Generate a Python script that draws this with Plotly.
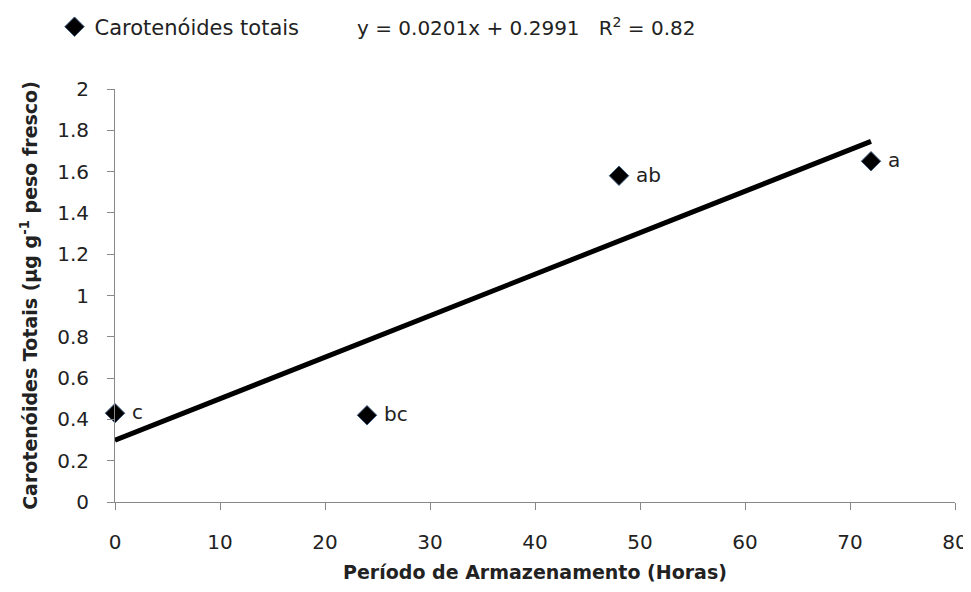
import plotly.graph_objects as go

hours = [0, 24, 48, 72]
carotenoids = [0.43, 0.42, 1.58, 1.65]
letters = ["c", "bc", "ab", "a"]
slope = 0.0201
intercept = 0.2991
r2 = 0.82
x_ticks = [0, 10, 20, 30, 40, 50, 60, 70, 80]
y_ticks = [0, 0.2, 0.4, 0.6, 0.8, 1, 1.2, 1.4, 1.6, 1.8, 2]

FONT = "DejaVu Sans"
TXT = "#222222"
AX = "#888888"
fit_x = [min(hours), max(hours)]
fit_y = [slope * x + intercept for x in fit_x]

fig = go.Figure()
fig.add_trace(go.Scatter(
    x=fit_x, y=fit_y, mode="lines",
    line=dict(color="black", width=5),
    showlegend=False, hoverinfo="skip"))
fig.add_trace(go.Scatter(
    x=hours, y=carotenoids, mode="markers",
    name="Carotenóides totais",
    marker=dict(symbol="diamond", size=15, color="black",
                line=dict(color="#3d5a80", width=1)),
    cliponaxis=False))

for x, y, t in zip(hours, carotenoids, letters):
    fig.add_annotation(x=x, y=y, text=t, showarrow=False,
                       xanchor="left", xshift=15, yshift=1,
                       font=dict(family=FONT, size=20, color=TXT))

fig.add_annotation(xref="paper", yref="paper", x=0.2857, y=1.150,
                   xanchor="left", yanchor="middle", showarrow=False,
                   text=f"y = {slope}x + {intercept}   R<sup>2</sup> = {r2}",
                   font=dict(family=FONT, size=20, color=TXT))

# the page body has an 8px margin, so the figure is offset by 8px
fig.update_layout(
    width=963, height=584,
    margin=dict(l=107, r=16, t=81, b=90, autoexpand=False),
    plot_bgcolor="white", paper_bgcolor="white",
    font=dict(family=FONT, size=20, color=TXT),
    legend=dict(x=-0.072, y=1.150, xanchor="left", yanchor="middle",
                orientation="h", font=dict(family=FONT, size=21, color=TXT),
                bgcolor="rgba(0,0,0,0)"),
    xaxis=dict(range=[0, 80], tickvals=x_ticks, showgrid=False, zeroline=False,
               automargin=False,
               showline=True, linecolor=AX, linewidth=1,
               ticks="outside", tickcolor=AX, ticklen=7, ticklabelstandoff=15,
               tickfont=dict(family=FONT, size=20, color=TXT),
               title=dict(text="<b>Período de Armazenamento (Horas)</b>",
                          font=dict(family=FONT, size=19, color=TXT), standoff=12)),
    yaxis=dict(range=[0, 2], tickvals=y_ticks, showgrid=False, zeroline=False,
               automargin=False,
               showline=True, linecolor=AX, linewidth=1,
               ticks="outside", tickcolor=AX, ticklen=7, ticklabelstandoff=14,
               tickfont=dict(family=FONT, size=20, color=TXT),
               title=dict(text="<b>Carotenóides Totais (µg g<sup>-1</sup> peso fresco)</b>",
                          font=dict(family=FONT, size=19, color=TXT), standoff=14)),
)

fig.write_html("out.html")
